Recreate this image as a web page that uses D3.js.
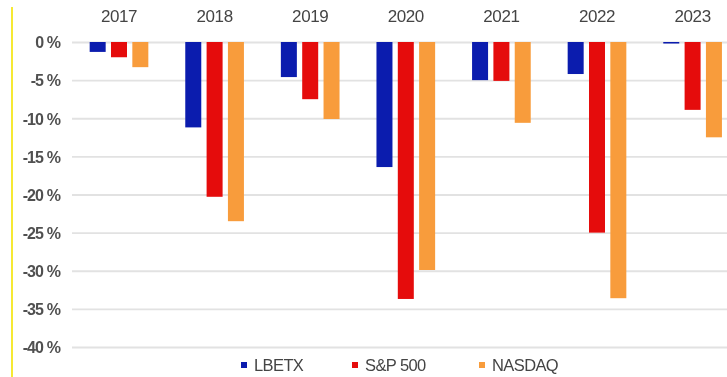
<!DOCTYPE html>
<html>
<head>
<meta charset="utf-8">
<script src="https://cdn.jsdelivr.net/npm/d3@7"></script>
<style>
  html, body { margin: 0; padding: 0; background: #fff; }
  svg { display: block; filter: blur(0.55px); }
  text { font-family: "Liberation Sans", Arial, sans-serif; }
</style>
</head>
<body>
<svg id="chart" width="727" height="377"></svg>
<script>
// Yearly maximum drawdown, in percent
const years = ["2017", "2018", "2019", "2020", "2021", "2022", "2023"];
const seriesNames = ["LBETX", "S&P 500", "NASDAQ"];
const lbetx  = [-1.3, -11.2, -4.6, -16.4, -5.0, -4.2, -0.2];
const sp500  = [-2.0, -20.3, -7.5, -33.7, -5.1, -25.0, -8.9];
const nasdaq = [-3.3, -23.5, -10.1, -29.9, -10.6, -33.6, -12.5];
const yTicks = [0, -5, -10, -15, -20, -25, -30, -35, -40];
const colors = ["#0b1cae", "#e50c0c", "#f89c3c"];

const values = [lbetx, sp500, nasdaq];
const svg = d3.select("#chart");

const y = d3.scaleLinear().domain([-40, 0]).range([347, 42]);
const x0 = d3.scaleBand().domain(years).range([71.2, 740.4]).padding(0);
const x1 = d3.scaleBand().domain(seriesNames).range([-32, 32])
  .paddingInner(0.25).paddingOuter(0.125);

// frame marker on the left edge
svg.append("line")
  .attr("x1", 12).attr("x2", 12).attr("y1", 7).attr("y2", 377)
  .attr("stroke", "#f4e400").attr("stroke-width", 1.6);

// horizontal grid
const yAxis = d3.axisLeft(y).tickValues(yTicks)
  .tickSize(-(740 - 72)).tickFormat(d => d + " %");
const gy = svg.append("g").attr("transform", "translate(72,0)").call(yAxis);
gy.select(".domain").remove();
gy.selectAll(".tick line").attr("stroke", "#e2e2e2").attr("stroke-width", 1.8);
gy.selectAll(".tick text")
  .attr("x", -12).attr("dy", "0.36em")
  .attr("fill", "#505050").attr("font-size", 16).attr("font-weight", "bold")
  .attr("letter-spacing", -0.9);

// year labels across the top
const xAxis = d3.axisTop(x0).tickSize(0).tickPadding(0);
const gx = svg.append("g").attr("transform", "translate(0,22)").call(xAxis);
gx.select(".domain").remove();
gx.selectAll(".tick text")
  .attr("fill", "#444").attr("font-size", 17).attr("letter-spacing", -0.4)
  .attr("dy", 0);

// bars
const groups = svg.append("g").selectAll("g")
  .data(years)
  .join("g")
  .attr("transform", d => `translate(${x0(d) + x0.bandwidth() / 2},0)`);

groups.selectAll("rect")
  .data((yr, i) => seriesNames.map((s, j) => ({ s, j, v: values[j][i] })))
  .join("rect")
  .attr("x", d => x1(d.s))
  .attr("width", x1.bandwidth())
  .attr("y", y(0))
  .attr("height", d => y(d.v) - y(0))
  .attr("fill", d => colors[d.j]);

// legend
const legendX = [241, 352, 479];
const legend = svg.append("g").selectAll("g")
  .data(seriesNames)
  .join("g")
  .attr("transform", (d, i) => `translate(${legendX[i]},0)`);
legend.append("rect")
  .attr("x", 0).attr("y", 362).attr("width", 6).attr("height", 6)
  .attr("fill", (d, i) => colors[i]);
legend.append("text")
  .attr("x", 13).attr("y", 371)
  .attr("fill", "#444").attr("font-size", 16.5).attr("letter-spacing", -0.6)
  .text(d => d);
</script>
</body>
</html>
